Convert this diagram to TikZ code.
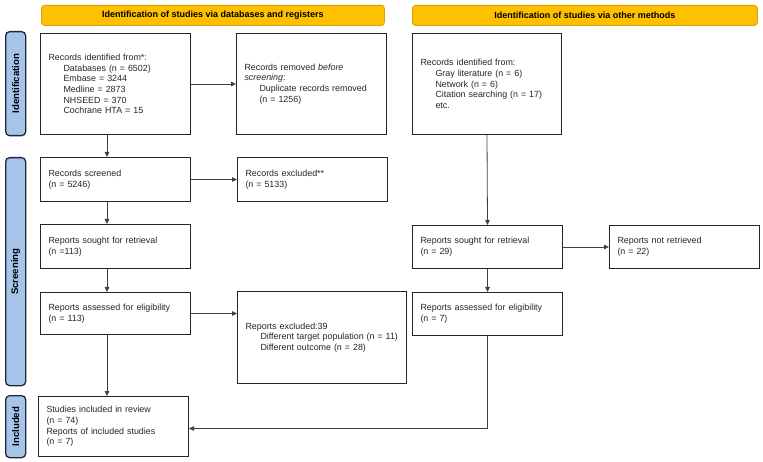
\documentclass[tikz,border=0pt]{standalone}
\usepackage{fontspec}
\setmainfont{Liberation Sans}
\usetikzlibrary{arrows.meta}
\definecolor{gold}{HTML}{FFC000}
\definecolor{goldborder}{HTML}{D9A000}
\definecolor{sideblue}{HTML}{A6C4EA}
\definecolor{sideborder}{HTML}{1E2638}
\begin{document}
\begin{tikzpicture}[x=1pt,y=-1pt,
  txt/.style={font=\fontsize{8.9}{10.7}\selectfont},
  box/.style={txt, draw=black!85, line width=1pt, fill=white, align=left,
    inner xsep=8pt, inner ysep=0pt, anchor=north west, text=black!85},
  header/.style={draw=goldborder, fill=gold, rounded corners=3pt, line width=0.8pt,
    anchor=north west, minimum height=20pt, inner sep=0pt,
    font=\bfseries\fontsize{9}{10}\selectfont},
  side/.style={draw=sideborder, fill=sideblue, rounded corners=4pt, line width=1.3pt,
    anchor=north west, minimum width=20pt, inner sep=0pt},
  sidetxt/.style={rotate=90, font=\bfseries\fontsize{9.6}{10}\selectfont},
  arr/.style={draw=black!75, line width=0.8pt, -{Triangle[length=5pt,width=4.5pt]}},
  ln/.style={draw=black!65, line width=0.8pt}
]
\useasboundingbox (0,0) rectangle (763,462);

% headers
\node[header, minimum width=343pt] (h1) at (41,5) {Identification of studies via databases and registers};
\node[header, minimum width=345pt] (h2) at (412,5) {Identification of studies via other methods};

% side labels
\node[side, minimum height=104pt] (s1) at (5,31) {};
\node[sidetxt] (s1t) at (s1.center) {Identification};
\node[side, minimum height=228pt] (s2) at (5,157) {};
\node[sidetxt] (s2t) at (s2.center) {Screening};
\node[side, minimum height=62pt] (s3) at (5,395) {};
\node[sidetxt] (s3t) at (s3.center) {Included};

% boxes
\node[box, text width=134pt, minimum height=101pt] (id) at (40,33) {Records identified from*:\\
\hspace*{15pt}Databases (n = 6502)\\
\hspace*{15pt}Embase = 3244\\
\hspace*{15pt}Medline = 2873\\
\hspace*{15pt}NHSEED = 370\\
\hspace*{15pt}Cochrane HTA = 15};
\node[box, text width=134pt, minimum height=101pt] (removed) at (236,33) {Records removed \emph{before}\\
\emph{screening}:\\
\hspace*{15pt}Duplicate records removed\\
\hspace*{15pt}(n = 1256)};
\node[box, text width=133pt, minimum height=101pt] (other) at (412,33) {Records identified from:\\
\hspace*{15pt}Gray literature (n = 6)\\
\hspace*{15pt}Network (n = 6)\\
\hspace*{15pt}Citation searching (n = 17)\\
\hspace*{15pt}etc.};

\node[box, text width=134pt, minimum height=44pt] (screened) at (40,157) {Records screened\\(n = 5246)};
\node[box, text width=134pt, minimum height=44pt] (excluded) at (237,157) {Records excluded**\\(n = 5133)};
\node[box, text width=134pt, minimum height=44pt] (sought) at (40,224) {Reports sought for retrieval\\(n =113)};
\node[box, text width=134pt, minimum height=42pt] (assessed) at (40,292) {Reports assessed for eligibility\\(n = 113)};
\node[box, text width=153pt, minimum height=92pt] (rexcl) at (237,291) {Reports excluded:39\\
\hspace*{15pt}Different target population (n = 11)\\
\hspace*{15pt}Different outcome (n = 28)\\[8pt]};
\node[box, text width=134pt, minimum height=60pt] (incl) at (38,396) {Studies included in review\\(n = 74)\\Reports of included studies\\(n = 7)};

\node[box, text width=134pt, minimum height=43pt] (osought) at (412,225) {Reports sought for retrieval\\(n = 29)};
\node[box, text width=134pt, minimum height=43pt] (notret) at (609,225) {Reports not retrieved\\(n = 22)};
\node[box, text width=134pt, minimum height=43pt] (oassessed) at (412,292) {Reports assessed for eligibility\\(n = 7)};

% connectors
\coordinate (lx) at (107,0);
\draw[arr] (id.east) -- (removed.west);
\draw[arr] (id.south -| lx) -- (screened.north -| lx);
\draw[arr] (screened.east) -- (excluded.west);
\draw[arr] (screened.south -| lx) -- (sought.north -| lx);
\draw[arr] (sought.south -| lx) -- (assessed.north -| lx);
\draw[arr] (assessed.east) -- (assessed.east -| rexcl.west);
\draw[arr] (assessed.south -| lx) -- (incl.north -| lx);

\draw[arr] (other.south) -- (osought.north);
\draw[arr] (osought.east) -- (notret.west);
\draw[arr] (osought.south) -- (oassessed.north);
\draw[arr] (oassessed.south) |- ([yshift=-2pt]incl.east);
\end{tikzpicture}
\end{document}
